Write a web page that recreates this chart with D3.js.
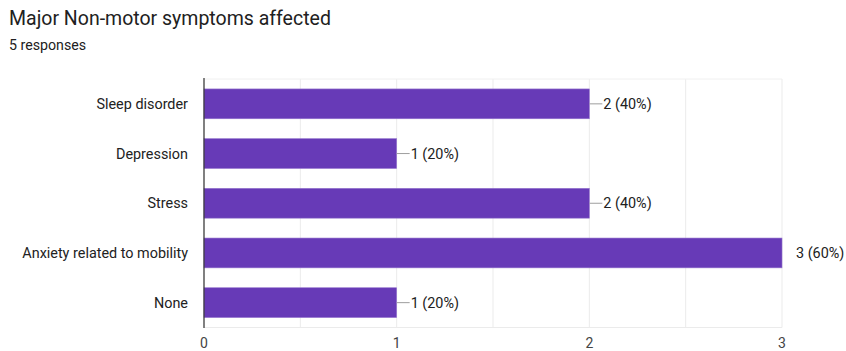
<!DOCTYPE html>
<html><head><meta charset="utf-8">
<script src="https://cdn.jsdelivr.net/npm/d3@7"></script>
<style>body{margin:0;background:#fff;font-family:Roboto,Arial,sans-serif;}</style>
</head><body>
<svg id="c" width="846" height="351"></svg>
<script>
const categories = ["Sleep disorder","Depression","Stress","Anxiety related to mobility","None"];
const counts = [2,1,2,3,1];
const percents = ["40%","20%","40%","60%","20%"];
const xTicks = [0,1,2,3];
const gridTicks = [0,0.5,1,1.5,2,2.5,3];

const svg = d3.select("#c");
svg.append("text").attr("x",9).attr("y",25).attr("font-size",19.5).attr("fill","#212121").text("Major Non-motor symptoms affected");
svg.append("text").attr("x",9).attr("y",50).attr("font-size",14.2).attr("fill","#212121").text("5 responses");

const x = d3.scaleLinear().domain([0,3]).range([204,782]);
const y = d3.scaleBand().domain(categories).range([79,327.5]).paddingInner(0.4).paddingOuter(0.2);

svg.append("g").selectAll("line").data(gridTicks).join("line")
  .attr("x1",d=>x(d)).attr("x2",d=>x(d)).attr("y1",79).attr("y2",327.5)
  .attr("stroke","#ebebeb").attr("stroke-width",1);
svg.append("line").attr("x1",204).attr("x2",782).attr("y1",79).attr("y2",79).attr("stroke","#f0f0f0");
svg.append("line").attr("x1",204).attr("x2",782).attr("y1",327.5).attr("y2",327.5).attr("stroke","#ebebeb");

const idx = categories.map((c,i)=>i);
svg.append("g").selectAll("rect").data(idx).join("rect")
  .attr("x",x(0)).attr("y",i=>y(categories[i])).attr("width",i=>x(counts[i])-x(0)).attr("height",y.bandwidth())
  .attr("fill","#673ab7").attr("stroke","#9575cd").attr("stroke-width",0.6);

svg.append("g").selectAll("line").data(idx).join("line")
  .attr("x1",i=>x(counts[i])).attr("x2",i=>x(counts[i])+ (counts[i]===3?0:13))
  .attr("y1",i=>y(categories[i])+y.bandwidth()/2).attr("y2",i=>y(categories[i])+y.bandwidth()/2)
  .attr("stroke","#9e9e9e").attr("stroke-width",1);
svg.append("g").selectAll("text").data(idx).join("text")
  .attr("x",i=>x(counts[i])+(counts[i]===3?14:14)).attr("y",i=>y(categories[i])+y.bandwidth()/2+5)
  .attr("font-size",14.4).attr("fill","#212121").text(i=>counts[i]+" ("+percents[i]+")");

svg.append("g").selectAll("text").data(categories).join("text")
  .attr("x",188).attr("y",d=>y(d)+y.bandwidth()/2+5).attr("text-anchor","end")
  .attr("font-size",14.4).attr("fill","#222").text(d=>d);

svg.append("line").attr("x1",204).attr("x2",204).attr("y1",78).attr("y2",328).attr("stroke","#333").attr("stroke-width",1.2);

svg.append("g").selectAll("text").data(xTicks).join("text")
  .attr("x",d=>x(d)).attr("y",348).attr("text-anchor","middle")
  .attr("font-size",14).attr("fill","#444").text(d=>d);
</script>
</body></html>
